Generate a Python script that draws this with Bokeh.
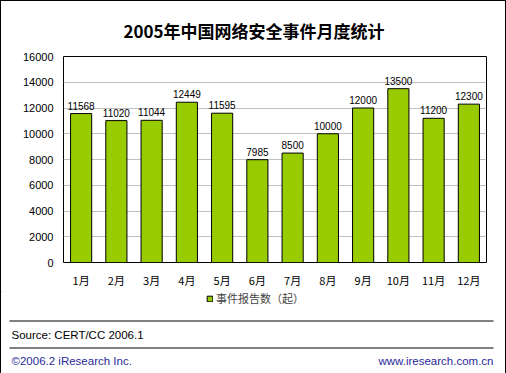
from bokeh.plotting import figure
from bokeh.layouts import column, row
from bokeh.models import ColumnDataSource, Legend, LegendItem, Range1d
from bokeh.core.properties import value
from bokeh.embed import file_html
from bokeh.resources import INLINE

months = ["1月", "2月", "3月", "4月", "5月", "6月", "7月", "8月", "9月", "10月", "11月", "12月"]
counts = [11568, 11020, 11044, 12449, 11595, 7985, 8500, 10000, 12000, 13500, 11200, 12300]
yticks = [0, 2000, 4000, 6000, 8000, 10000, 12000, 14000, 16000]
title_text = "2005年中国网络安全事件月度统计"
series_name = "事件报告数（起）"
source_text = "Source:  CERT/CC 2006.1"
copyright_text = "©2006.2 iResearch Inc."
site_text = "www.iresearch.com.cn"

BAR_COLOR = "#99CC00"
BLUE = "#2a2a9a"

# ---- main chart ----
p = figure(width=504, height=289, frame_width=423, frame_height=206,
           x_range=months, y_range=(0, 16000),
           output_backend="svg", toolbar_location=None,
           min_border_left=62, min_border_right=19, min_border_top=54, min_border_bottom=29)

src = ColumnDataSource(dict(m=months, c=counts, t=[str(v) for v in counts]))
bars = p.vbar(x="m", top="c", width=0.6, source=src, fill_color=BAR_COLOR,
              line_color="black", line_width=1)
p.text(x="m", y="c", text="t", source=src, text_align="center", text_baseline="alphabetic",
       y_offset=-8, text_font_size="10px", text_font=value("Liberation Sans"), text_color="black")

p.yaxis.ticker = yticks
for ax in (p.xaxis, p.yaxis):
    ax.major_tick_line_color = None
    ax.minor_tick_line_color = None
    ax.axis_line_color = None
    ax.major_tick_out = 0
    ax.major_tick_in = 0
    ax.major_label_text_color = "black"
p.yaxis.major_label_text_font = "Liberation Sans"
p.yaxis.major_label_text_font_size = "11px"
p.yaxis.major_label_standoff = 10
p.xaxis.major_label_text_font = "Noto Sans CJK SC"
p.xaxis.major_label_text_font_size = "11px"
p.xaxis.major_label_standoff = 9
p.xgrid.grid_line_color = None
p.ygrid.grid_line_color = "#c0c0c0"
p.outline_line_color = "black"
p.outline_line_width = 1
p.outline_line_alpha = 1

p.title.text = title_text
p.title.align = "left"
p.title.offset = 60
p.title.text_font = "Noto Sans CJK SC"
p.title.text_font_size = "17px"
p.title.text_font_style = "bold"
p.title.text_color = "black"
p.title.standoff = 28

# ---- legend + footer ----
q = figure(width=504, height=82, x_range=Range1d(0, 504), y_range=Range1d(82, 0),
           output_backend="svg", toolbar_location=None, x_axis_type=None, y_axis_type=None,
           min_border=0, min_border_left=0, min_border_right=0, min_border_top=0, min_border_bottom=0)
q.grid.visible = False
q.outline_line_color = None

# legend key glyph (kept outside the visible range; only its legend swatch is shown)
key = q.vbar(x=[-50], top=[0], bottom=[0], width=1, fill_color=BAR_COLOR,
             line_color="black", line_width=1)
legend = Legend(items=[LegendItem(label=series_name, renderers=[key])], orientation="horizontal",
                location=(205, 67), border_line_color=None, background_fill_alpha=0,
                label_text_font="Noto Sans CJK SC", label_text_font_size="11px",
                glyph_width=7, glyph_height=7, padding=0, margin=0, label_standoff=3,
                label_height=13)
q.add_layout(legend, "center")

q.segment(x0=[8, 8], y0=[29.5, 56.5], x1=[492, 492], y1=[29.5, 56.5], line_color="black", line_width=1)
q.text(x=[10], y=[43], text=[source_text], text_baseline="middle", text_align="left",
       text_font=value("Liberation Sans"), text_font_size="11.5px", text_color="black")
q.text(x=[10], y=[69], text=[copyright_text], text_baseline="middle", text_align="left",
       text_font=value("Liberation Sans"), text_font_size="11.5px", text_color=BLUE)
q.text(x=[492], y=[69], text=[site_text], text_baseline="middle", text_align="right",
       text_font=value("Liberation Sans"), text_font_size="11.5px", text_color=BLUE)

layout = column(p, row(q, spacing=0), spacing=0, styles={"border": "1px solid black"})
open("out.html", "w").write(file_html(layout, INLINE))
